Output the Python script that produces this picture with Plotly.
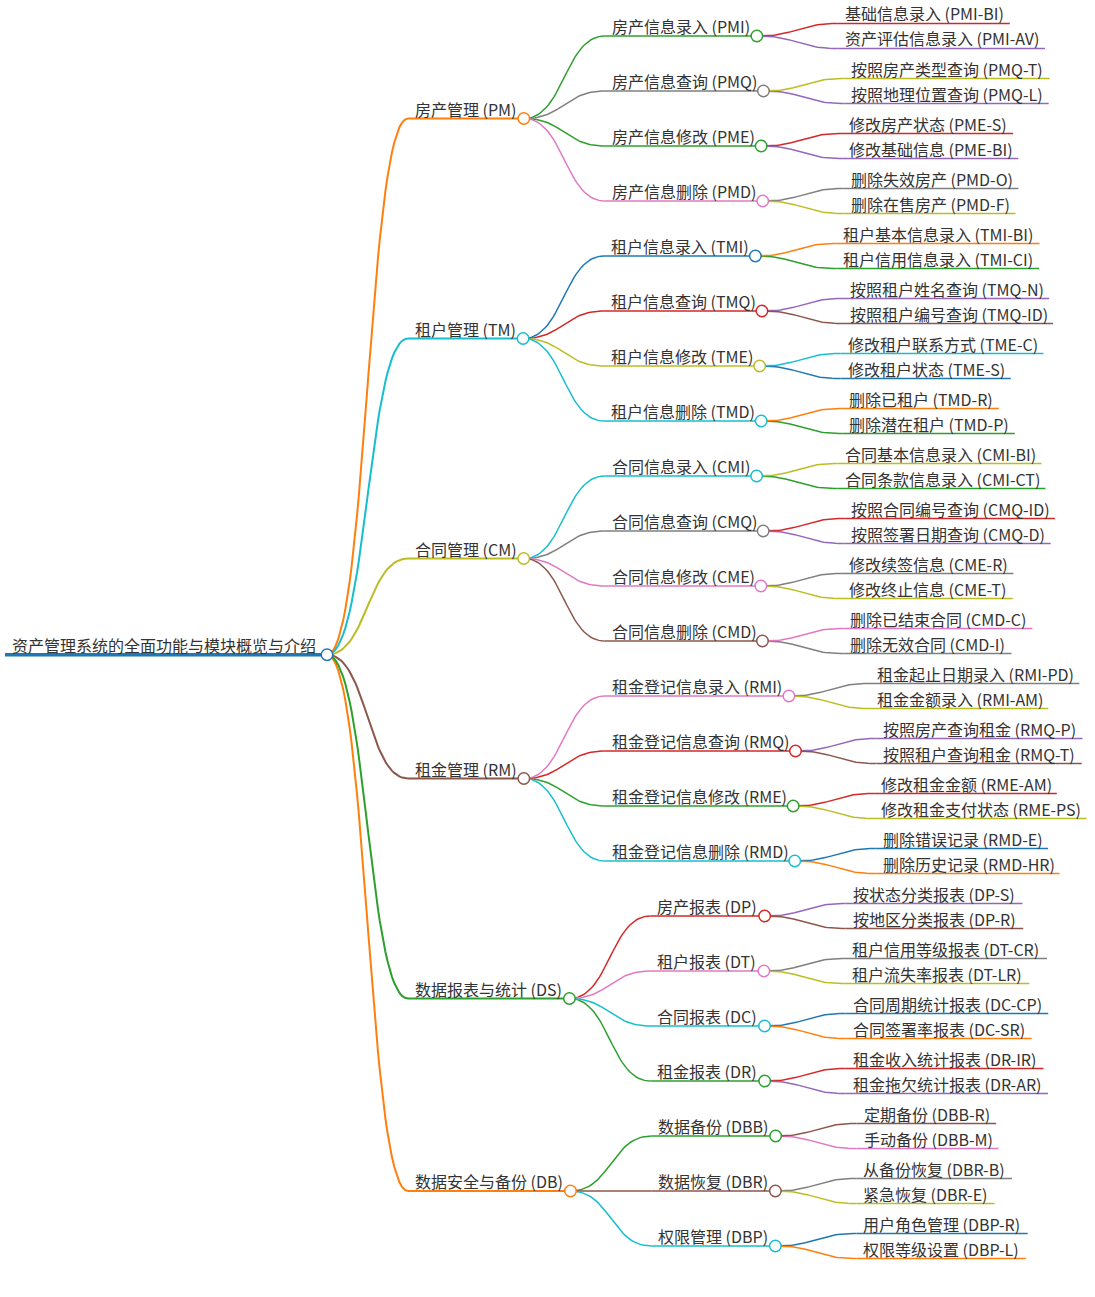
import numpy as np
import plotly.graph_objects as go

# ---- data: mind map labels ----
root_label = "资产管理系统的全面功能与模块概览与介绍"

modules = ["房产管理 (PM)", "租户管理 (TM)", "合同管理 (CM)",
           "租金管理 (RM)", "数据报表与统计 (DS)", "数据安全与备份 (DB)"]

pm_funcs = ["房产信息录入 (PMI)", "房产信息查询 (PMQ)", "房产信息修改 (PME)", "房产信息删除 (PMD)"]
tm_funcs = ["租户信息录入 (TMI)", "租户信息查询 (TMQ)", "租户信息修改 (TME)", "租户信息删除 (TMD)"]
cm_funcs = ["合同信息录入 (CMI)", "合同信息查询 (CMQ)", "合同信息修改 (CME)", "合同信息删除 (CMD)"]
rm_funcs = ["租金登记信息录入 (RMI)", "租金登记信息查询 (RMQ)", "租金登记信息修改 (RME)", "租金登记信息删除 (RMD)"]
ds_funcs = ["房产报表 (DP)", "租户报表 (DT)", "合同报表 (DC)", "租金报表 (DR)"]
db_funcs = ["数据备份 (DBB)", "数据恢复 (DBR)", "权限管理 (DBP)"]

pm_items = [["基础信息录入 (PMI-BI)", "资产评估信息录入 (PMI-AV)"],
            ["按照房产类型查询 (PMQ-T)", "按照地理位置查询 (PMQ-L)"],
            ["修改房产状态 (PME-S)", "修改基础信息 (PME-BI)"],
            ["删除失效房产 (PMD-O)", "删除在售房产 (PMD-F)"]]
tm_items = [["租户基本信息录入 (TMI-BI)", "租户信用信息录入 (TMI-CI)"],
            ["按照租户姓名查询 (TMQ-N)", "按照租户编号查询 (TMQ-ID)"],
            ["修改租户联系方式 (TME-C)", "修改租户状态 (TME-S)"],
            ["删除已租户 (TMD-R)", "删除潜在租户 (TMD-P)"]]
cm_items = [["合同基本信息录入 (CMI-BI)", "合同条款信息录入 (CMI-CT)"],
            ["按照合同编号查询 (CMQ-ID)", "按照签署日期查询 (CMQ-D)"],
            ["修改续签信息 (CME-R)", "修改终止信息 (CME-T)"],
            ["删除已结束合同 (CMD-C)", "删除无效合同 (CMD-I)"]]
rm_items = [["租金起止日期录入 (RMI-PD)", "租金金额录入 (RMI-AM)"],
            ["按照房产查询租金 (RMQ-P)", "按照租户查询租金 (RMQ-T)"],
            ["修改租金金额 (RME-AM)", "修改租金支付状态 (RME-PS)"],
            ["删除错误记录 (RMD-E)", "删除历史记录 (RMD-HR)"]]
ds_items = [["按状态分类报表 (DP-S)", "按地区分类报表 (DP-R)"],
            ["租户信用等级报表 (DT-CR)", "租户流失率报表 (DT-LR)"],
            ["合同周期统计报表 (DC-CP)", "合同签署率报表 (DC-SR)"],
            ["租金收入统计报表 (DR-IR)", "租金拖欠统计报表 (DR-AR)"]]
db_items = [["定期备份 (DBB-R)", "手动备份 (DBB-M)"],
            ["从备份恢复 (DBR-B)", "紧急恢复 (DBR-E)"],
            ["用户角色管理 (DBP-R)", "权限等级设置 (DBP-L)"]]

# ---- branch colours (d3 category10) ----
C = dict(blue="#1f77b4", orange="#ff7f0e", green="#2ca02c", red="#d62728", purple="#9467bd",
         brown="#8c564b", pink="#e377c2", gray="#7f7f7f", olive="#bcbd22", cyan="#17becf")
root_color = "blue"
module_colors = ["orange", "cyan", "olive", "brown", "green", "orange"]
func_colors = [["green", "gray", "green", "pink"],
               ["blue", "red", "olive", "cyan"],
               ["cyan", "gray", "pink", "brown"],
               ["pink", "red", "green", "cyan"],
               ["red", "pink", "cyan", "green"],
               ["green", "brown", "cyan"]]
item_colors = [[["red", "purple"], ["olive", "purple"], ["red", "purple"], ["gray", "olive"]],
               [["orange", "green"], ["purple", "brown"], ["cyan", "blue"], ["orange", "green"]],
               [["olive", "green"], ["red", "purple"], ["gray", "olive"], ["pink", "gray"]],
               [["gray", "olive"], ["purple", "brown"], ["red", "olive"], ["blue", "orange"]],
               [["purple", "brown"], ["gray", "olive"], ["blue", "orange"], ["red", "purple"]],
               [["brown", "pink"], ["gray", "olive"], ["blue", "orange"]]]

FONT = "Noto Sans CJK SC"
FS = 16
# rough latin advance widths (per 1000 em)
latin = {" ": 200, "(": 298, ")": 298, "-": 311, "A": 544, "B": 605, "C": 580, "D": 629,
         "E": 530, "F": 497, "H": 653, "I": 264, "L": 478, "M": 730, "N": 646, "O": 675,
         "P": 588, "Q": 675, "R": 589, "S": 540, "T": 541, "V": 522}


def text_w(s):
    w = 0
    for ch in s:
        if ord(ch) > 0x2e80:
            w += FS
        else:
            w += latin.get(ch, 540) * FS / 1000
    return w


def node(label, color, kids=()):
    return {"label": label, "color": C[color], "kids": list(kids)}


funcs = [pm_funcs, tm_funcs, cm_funcs, rm_funcs, ds_funcs, db_funcs]
items = [pm_items, tm_items, cm_items, rm_items, ds_items, db_items]

tree = node(root_label, root_color, [
    node(m, mc, [node(f, fc, [node(i, ic) for i, ic in zip(its, ics)])
                 for f, fc, its, ics in zip(fs, fcs, iss, icss)])
    for m, mc, fs, fcs, iss, icss in zip(modules, module_colors, funcs, func_colors, items, item_colors)])

# ---- layout ----
ROW, GROUP_GAP, TOP = 25, 5, 23.5
GAP_X, PAD_L, PAD_R, PAD_R_LEAF = 81, 8, 10, 11
WIDTH = [3.5, 2.0, 1.5, 1.5]
cursor = [TOP]


def place(n, x0, depth):
    n["depth"] = depth
    n["x0"] = x0
    pad_r = PAD_R if n["kids"] else PAD_R_LEAF
    n["x1"] = x0 + PAD_L + text_w(n["label"]) + pad_r
    if not n["kids"]:
        n["y"] = cursor[0]
        cursor[0] += ROW
        return
    for k in n["kids"]:
        place(k, n["x1"] + GAP_X, depth + 1)
    if all(not k["kids"] for k in n["kids"]):
        cursor[0] += GROUP_GAP
    n["y"] = (n["kids"][0]["y"] + n["kids"][-1]["y"]) / 2


place(tree, 5, 0)

segs = {}
annotations = []
circles = []
t = np.linspace(0, 1, 40)


def add(key, xs, ys):
    sx, sy = segs.setdefault(key, ([], []))
    sx.extend(list(xs) + [None])
    sy.extend(list(ys) + [None])


def walk(n):
    add((n["color"], WIDTH[n["depth"]]), [n["x0"], n["x1"]], [n["y"], n["y"]])
    annotations.append(dict(x=n["x0"] + PAD_L, y=n["y"], text=n["label"], xanchor="left",
                            yanchor="bottom", showarrow=False, xshift=-3, yshift=-4,
                            font=dict(family=FONT, size=FS, color="#333333")))
    if n["kids"]:
        circles.append((n["x1"], n["y"], n["color"]))
    for k in n["kids"]:
        x0, y0, x1, y1 = n["x1"], n["y"], k["x0"], k["y"]
        xm = (x0 + x1) / 2
        bx = (1 - t) ** 3 * x0 + 3 * (1 - t) ** 2 * t * xm + 3 * (1 - t) * t ** 2 * xm + t ** 3 * x1
        by = (1 - t) ** 3 * y0 + 3 * (1 - t) ** 2 * t * y0 + 3 * (1 - t) * t ** 2 * y1 + t ** 3 * y1
        add((k["color"], WIDTH[k["depth"]]), bx, by)
        walk(k)


walk(tree)

fig = go.Figure()
for (col, w), (xs, ys) in segs.items():
    fig.add_trace(go.Scatter(x=xs, y=ys, mode="lines", line=dict(color=col, width=w),
                             hoverinfo="skip", showlegend=False))

fig.add_trace(go.Scatter(x=[c[0] for c in circles], y=[c[1] for c in circles], mode="markers",
                         marker=dict(size=11.5, color="white",
                                     line=dict(color=[c[2] for c in circles], width=1.5)),
                         hoverinfo="skip", showlegend=False))

fig.update_layout(width=1095, height=1297, margin=dict(l=0, r=0, t=0, b=0),
                  paper_bgcolor="white", plot_bgcolor="white",
                  annotations=annotations,
                  xaxis=dict(range=[0, 1095], visible=False, fixedrange=True),
                  yaxis=dict(range=[1297, 0], visible=False, fixedrange=True))

fig.write_html("out.html", config={"displayModeBar": False},
               post_script="document.body.style.margin='0';")
